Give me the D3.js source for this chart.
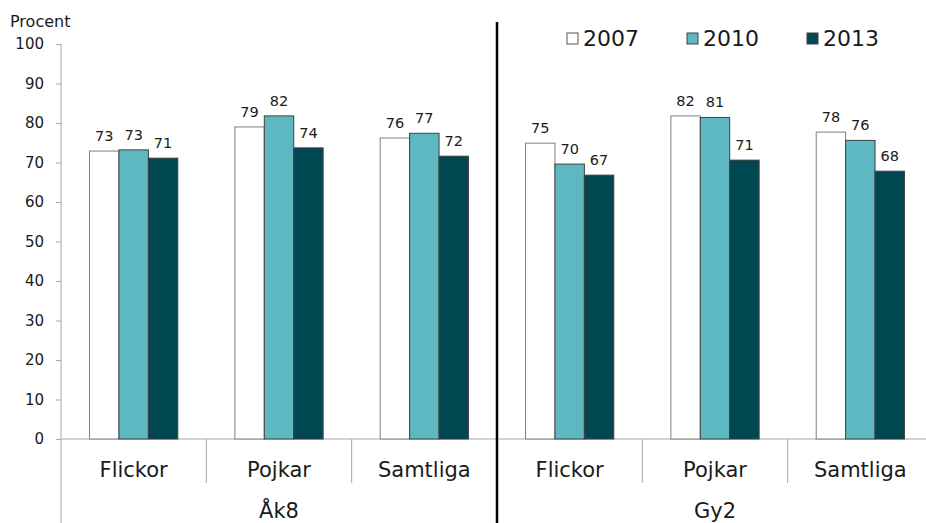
<!DOCTYPE html>
<html><head><meta charset="utf-8">
<script src="https://cdn.jsdelivr.net/npm/d3@7"></script>
<style>body{margin:0;background:#fff}svg{display:block;font-family:"DejaVu Sans",Verdana,sans-serif}</style>
</head><body><svg id="c" width="926" height="523"></svg>
<script>
const groups = ["Åk8", "Gy2"];
const categories = ["Flickor", "Pojkar", "Samtliga"];
const years = ["2007", "2010", "2013"];
const v2007 = [72.9, 79.0, 76.2, 74.9, 81.8, 77.7];
const v2010 = [73.2, 81.8, 77.4, 69.6, 81.4, 75.6];
const v2013 = [71.1, 73.7, 71.6, 66.8, 70.6, 67.8];
const yTicks = [0, 10, 20, 30, 40, 50, 60, 70, 80, 90, 100];
const colors = ["#ffffff", "#5eb8c2", "#014751"];

const series = [v2007, v2010, v2013];
const svg = d3.select("#c");
const left = 61, right = 933, y0 = 439, y1 = 44;
const y = d3.scaleLinear().domain([0, 100]).range([y0, y1]);
const xg = d3.scaleBand().domain(groups).range([left, right]);
const xc = d3.scaleBand().domain(categories).range([0, xg.bandwidth()]);
const xy = d3.scaleBand().domain(years).range([0, xc.bandwidth()]).paddingInner(0).paddingOuter(0.97);

// y axis
const ax = svg.append("g").attr("transform", `translate(${left},0)`)
  .call(d3.axisLeft(y).tickValues(yTicks).tickSize(5).tickPadding(12));
ax.select(".domain").remove();
ax.selectAll(".tick line").attr("stroke", "#a6a6a6");
ax.selectAll(".tick text").attr("font-size", 15).attr("fill", "#1a1a1a").attr("font-family", "DejaVu Sans, Verdana, sans-serif");
svg.append("line").attr("x1", left).attr("x2", left).attr("y1", y1).attr("y2", 523).attr("stroke", "#a6a6a6");
svg.append("line").attr("x1", left).attr("x2", 926).attr("y1", y0).attr("y2", y0).attr("stroke", "#a6a6a6");

svg.append("text").attr("x", 10).attr("y", 27).attr("font-size", 16).attr("fill", "#1a1a1a").text("Procent");

// bars
groups.forEach((g, gi) => {
  const gx = xg(g);
  categories.forEach((c, ci) => {
    const cx = gx + xc(c);
    if (ci > 0) svg.append("line").attr("x1", cx).attr("x2", cx).attr("y1", y0).attr("y2", 483).attr("stroke", "#a6a6a6");
    years.forEach((yr, yi) => {
      const val = series[yi][gi * 3 + ci];
      svg.append("rect").attr("x", cx + xy(yr)).attr("y", y(val)).attr("width", xy.bandwidth()).attr("height", y0 - y(val))
        .attr("fill", colors[yi]).attr("stroke", yi === 0 ? "#7f7f7f" : "#404040").attr("stroke-width", 1);
      svg.append("text").attr("x", cx + xy(yr) + xy.bandwidth() / 2).attr("y", y(val) - 10)
        .attr("text-anchor", "middle").attr("font-size", 14.5).attr("fill", "#1a1a1a").text(Math.round(val));
    });
    svg.append("text").attr("x", cx + xc.bandwidth() / 2).attr("y", 477).attr("text-anchor", "middle")
      .attr("font-size", 21).attr("fill", "#1a1a1a").text(c);
  });
  svg.append("text").attr("x", gx + xg.bandwidth() / 2).attr("y", 518).attr("text-anchor", "middle")
    .attr("font-size", 21).attr("fill", "#1a1a1a").text(g);
});

// group divider
const divX = xg(groups[1]);
svg.append("line").attr("x1", divX).attr("x2", divX).attr("y1", 22).attr("y2", 523).attr("stroke", "#000").attr("stroke-width", 2.5);

// legend
const lx = [567, 687, 807];
years.forEach((yr, i) => {
  svg.append("rect").attr("x", lx[i]).attr("y", 33).attr("width", 11).attr("height", 11)
    .attr("fill", colors[i]).attr("stroke", i === 0 ? "#555" : "#404040");
  svg.append("text").attr("x", lx[i] + 16).attr("y", 46).attr("font-size", 22).attr("fill", "#1a1a1a").text(yr);
});
</script></body></html>
